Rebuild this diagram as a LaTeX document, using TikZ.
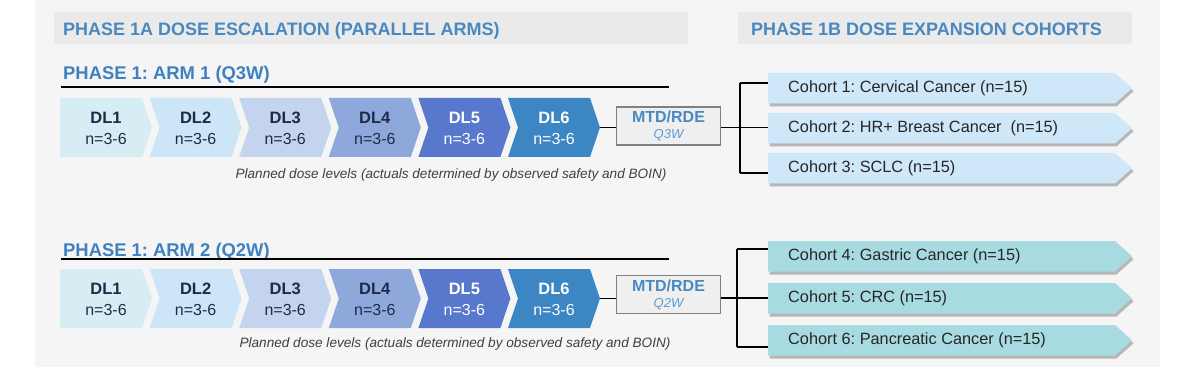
\documentclass[tikz,border=0pt]{standalone}
\usepackage{fontspec}
\setmainfont{Liberation Sans}
\usetikzlibrary{shadows}
\frenchspacing
\definecolor{panel}{HTML}{F5F5F5}
\definecolor{hdrbar}{HTML}{EAEAEA}
\definecolor{hdrblue}{HTML}{4A89C0}
\definecolor{armblue}{HTML}{3F80C0}
\definecolor{navy}{HTML}{1E2B48}
\definecolor{dlA}{HTML}{D6EEF3}
\definecolor{dlB}{HTML}{CCE6F8}
\definecolor{dlC}{HTML}{C4D3EE}
\definecolor{dlD}{HTML}{8EA8DC}
\definecolor{dlE}{HTML}{5878CE}
\definecolor{dlF}{HTML}{3C87C3}
\definecolor{cohA}{HTML}{CFE8F9}
\definecolor{cohB}{HTML}{A8DBE1}
\definecolor{mtdfill}{HTML}{EFEFEF}
\definecolor{mtdline}{HTML}{808080}
\definecolor{qblue}{HTML}{5B9BD5}
\definecolor{notegray}{HTML}{404040}
\tikzset{
  hdr/.style={font=\fontsize{18}{21}\selectfont\bfseries, text=hdrblue, inner sep=0pt},
  armtitle/.style={font=\fontsize{18.4}{21}\selectfont\bfseries, text=armblue, inner sep=0pt},
  dltext/.style={align=center, inner sep=0pt, font=\fontsize{16}{20}\selectfont},
  mtdbox/.style={draw=mtdline, line width=1.6pt, fill=mtdfill, minimum width=104pt, minimum height=38pt, inner sep=0pt, align=center},
  conn/.style={draw=black, line width=1.8pt},
  note/.style={font=\fontsize{13.6}{16}\selectfont\itshape, text=notegray, inner sep=0pt},
  cohtext/.style={font=\fontsize{16.3}{19}\selectfont, text=black!85, inner sep=0pt, anchor=west},
  cohshadow/.style={drop shadow={shadow xshift=1.5pt, shadow yshift=-3pt, fill=black, opacity=0.25}}
}
% chevron: x0, ytop, colour, name, first(1)/other(0), text colour, label
\newcommand{\dlchev}[7]{%
  \ifnum#5=1
    \fill[#3] (#1,#2) -- ({#1+82},#2) -- ({#1+92},{#2+29.5}) -- ({#1+82},{#2+59}) -- (#1,{#2+59}) -- cycle;
  \else
    \fill[#3] (#1,#2) -- ({#1+82},#2) -- ({#1+92},{#2+29.5}) -- ({#1+82},{#2+59}) -- (#1,{#2+59}) -- ({#1+10},{#2+29.5}) -- cycle;
  \fi
  \node[dltext, text=#6] (#4) at ({#1+46},{#2+30}) {{\fontsize{16.5}{20}\selectfont\bfseries #7}\\[1pt]n=3-6};
}
% cohort: ytop, colour, name, label
\newcommand{\cohort}[4]{%
  \fill[#2, cohshadow] (768,#1) -- (1115,#1) -- (1132,{#1+15.25}) -- (1115,{#1+30.5}) -- (768,{#1+30.5}) -- cycle;
  \coordinate (#3w) at (768,{#1+15.25});
  \node[cohtext] (#3) at (788,{#1+15.5}) {#4};
}
\begin{document}
\begin{tikzpicture}[x=1pt,y=-1pt]
\useasboundingbox (0,0) rectangle (1200,377);
\fill[white] (0,0) rectangle (1200,377);
\fill[panel] (35,0) rectangle (1160,367);
% headers
\fill[hdrbar] (54,12) rectangle (688,44);
\node[hdr, anchor=base west] (h1) at (63,36) {PHASE 1A DOSE ESCALATION (PARALLEL ARMS)};
\fill[hdrbar] (738,12) rectangle (1132,44);
\node[hdr, anchor=base west] (h2) at (751,36) {PHASE 1B DOSE EXPANSION COHORTS};

% ===== ARM 1 =====
\node[armtitle, anchor=base west] (a1) at (63,79.5) {PHASE 1: ARM 1 (Q3W)};
\coordinate (u1s) at (61,87);
\coordinate (u1e) at (669,87);
\draw[line width=2pt] (u1s) -- (u1e);
\dlchev{60}{98}{dlA}{r1d1}{1}{navy}{DL1}
\dlchev{149.6}{98}{dlB}{r1d2}{0}{navy}{DL2}
\dlchev{239.2}{98}{dlC}{r1d3}{0}{navy}{DL3}
\dlchev{328.8}{98}{dlD}{r1d4}{0}{navy}{DL4}
\dlchev{418.4}{98}{dlE}{r1d5}{0}{white}{DL5}
\dlchev{508}{98}{dlF}{r1d6}{0}{white}{DL6}
\coordinate (t1) at (600,127.5);
\node[mtdbox] (m1) at (668.5,126) {{\fontsize{16}{18}\selectfont\bfseries\color{hdrblue}MTD/RDE}\\[4pt]{\fontsize{13}{14}\selectfont\itshape\color{qblue}Q3W}};
\node[note] (p1) at (451,175) {Planned dose levels (actuals determined by observed safety and BOIN)};
\cohort{73}{cohA}{c1}{Cohort 1: Cervical Cancer (n=15)}
\cohort{113}{cohA}{c2}{Cohort 2: HR+ Breast Cancer\ \ (n=15)}
\cohort{153}{cohA}{c3}{Cohort 3: SCLC (n=15)}
\coordinate (b1m) at (740,127.5);
\coordinate (b1t) at (740,83);
\coordinate (b1b) at (740,173);
\draw[conn] (t1) -- (t1 -| m1.west);
\draw[conn] (m1.east |- b1m) -- (b1m);
\draw[conn] (b1t) -- (b1b);
\draw[conn] (b1t) -- (b1t -| c1w);
\draw[conn] (b1m) -- (b1m -| c2w);
\draw[conn] (b1b) -- (b1b -| c3w);

% ===== ARM 2 =====
\node[armtitle, anchor=base west] (a2) at (63,256.5) {PHASE 1: ARM 2 (Q2W)};
\coordinate (u2s) at (61,259);
\coordinate (u2e) at (669,259);
\draw[line width=2pt] (u2s) -- (u2e);
\dlchev{60}{269}{dlA}{r2d1}{1}{navy}{DL1}
\dlchev{149.6}{269}{dlB}{r2d2}{0}{navy}{DL2}
\dlchev{239.2}{269}{dlC}{r2d3}{0}{navy}{DL3}
\dlchev{328.8}{269}{dlD}{r2d4}{0}{navy}{DL4}
\dlchev{418.4}{269}{dlE}{r2d5}{0}{white}{DL5}
\dlchev{508}{269}{dlF}{r2d6}{0}{white}{DL6}
\coordinate (t2) at (600,298.5);
\node[mtdbox] (m2) at (668.5,294.5) {{\fontsize{16}{18}\selectfont\bfseries\color{hdrblue}MTD/RDE}\\[4pt]{\fontsize{13}{14}\selectfont\itshape\color{qblue}Q2W}};
\node[note] (p2) at (455,344) {Planned dose levels (actuals determined by observed safety and BOIN)};
\cohort{241}{cohB}{c4}{Cohort 4: Gastric Cancer (n=15)}
\cohort{283}{cohB}{c5}{Cohort 5: CRC (n=15)}
\cohort{325}{cohB}{c6}{Cohort 6: Pancreatic Cancer (n=15)}
\coordinate (b2m) at (737,298);
\coordinate (b2t) at (737,249);
\coordinate (b2b) at (737,347);
\draw[conn] (t2) -- (t2 -| m2.west);
\draw[conn] (m2.east |- b2m) -- (b2m);
\draw[conn] (b2t) -- (b2b);
\draw[conn] (b2t) -- (b2t -| c4w);
\draw[conn] (b2m) -- (b2m -| c5w);
\draw[conn] (b2b) -- (b2b -| c6w);
\end{tikzpicture}
\end{document}
